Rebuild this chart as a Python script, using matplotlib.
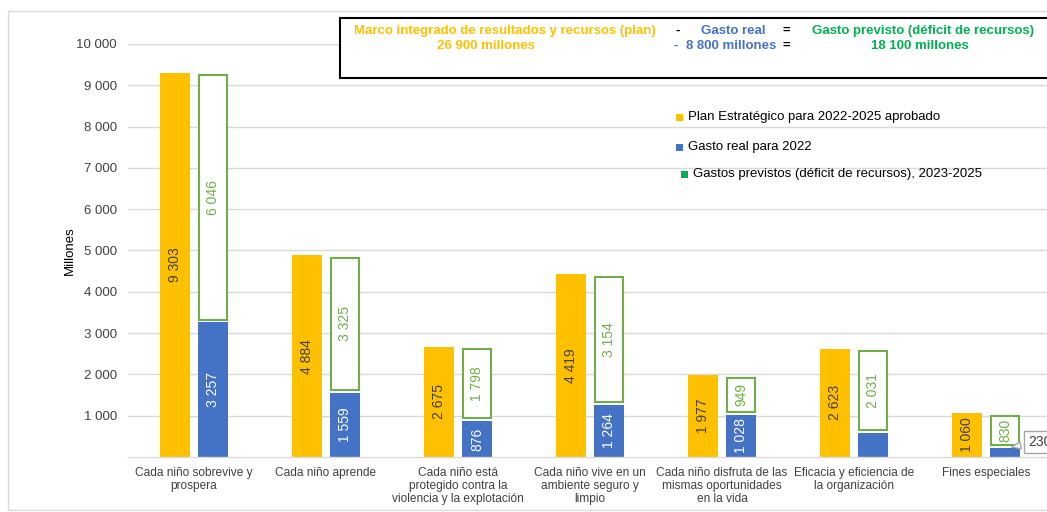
import matplotlib
matplotlib.use('Agg')
import matplotlib.pyplot as plt
from matplotlib.patches import Rectangle
import numpy as np

plt.rcParams['font.family'] = ['Liberation Sans', 'DejaVu Sans']

# Chart data (millones)
categories = ['Cada niño sobrevive y\nprospera',
              'Cada niño aprende',
              'Cada niño está\nprotegido contra la\nviolencia y la explotación',
              'Cada niño vive en un\nambiente seguro y\nlimpio',
              'Cada niño disfruta de las\nmismas oportunidades\nen la vida',
              'Eficacia y eficiencia de\nla organización',
              'Fines especiales']
plan = [9303, 4884, 2675, 4419, 1977, 2623, 1060]
real = [3257, 1559, 876, 1264, 1028, 592, 230]
deficit = [6046, 3325, 1798, 3154, 949, 2031, 830]
real_label = [True, True, True, True, True, False, False]  # last one is a callout
y_ticks = [1000, 2000, 3000, 4000, 5000, 6000, 7000, 8000, 9000, 10000]

ORANGE = '#FFC000'
BLUE = '#4472C4'
GREEN = '#70AD47'
HEAD_GREEN = '#00B050'
TEXT = '#404040'
GRID = '#D9D9D9'

W, H = 1047, 512


def fmt(v):
    return f'{v:,}'.replace(',', ' ')


def px(x, y):
    # pixel coords from top-left -> figure fraction
    return x / W, 1 - y / H


fig = plt.figure(figsize=(W / 100, H / 100), dpi=100)
fig.patch.set_facecolor('white')
ax = fig.add_axes([128 / W, 1 - 457 / H, (1052 - 128) / W, (457 - 44) / H])

x = np.arange(len(categories))
bw = 0.227
off = 0.144
inset = 60

ax.bar(x - off, plan, bw, color=ORANGE, zorder=2)
ax.bar(x + off, real, bw, color=BLUE, zorder=2)
ax.bar(x + off, np.array(deficit) - 2 * inset, 0.21, bottom=np.array(real) + inset,
       facecolor='white', edgecolor=GREEN, linewidth=1.5, zorder=2)

for i in range(len(categories)):
    ax.text(x[i] - off, plan[i] / 2, fmt(plan[i]), rotation=90, ha='center', va='center',
            color=TEXT, fontsize=10, zorder=3)
    if real_label[i]:
        ax.text(x[i] + off, real[i] / 2, fmt(real[i]), rotation=90, ha='center', va='center',
                color='white', fontsize=10, zorder=3)
    ax.text(x[i] + off, real[i] + deficit[i] / 2, fmt(deficit[i]), rotation=90,
            ha='center', va='center', color=GREEN, fontsize=10, zorder=3)

# callout for the small bar
ax.annotate(fmt(real[6]), xy=(x[6] + off + 0.03, real[6]), xytext=(1028, H - 442),
            textcoords='figure pixels', ha='left', va='center', fontsize=10, color=TEXT,
            bbox=dict(boxstyle='square,pad=0.3', fc='white', ec='#A6A6A6', lw=1),
            arrowprops=dict(arrowstyle='wedge,tail_width=0.5,shrink_factor=0.5',
                            fc='white', ec='#A6A6A6', lw=1),
            zorder=4, annotation_clip=False)

ax.set_xlim(-0.5, len(categories) - 0.5)
ax.set_ylim(0, 10000)
ax.set_yticks(y_ticks)
ax.set_yticklabels([fmt(t) for t in y_ticks])
ax.set_xticks(x)
ax.set_xticklabels(categories, fontsize=8.6, color=TEXT, linespacing=1.15)
ax.tick_params(axis='y', length=0, labelsize=9.5, labelcolor=TEXT, pad=8)
ax.tick_params(axis='x', length=0, pad=7)
ax.grid(axis='y', color=GRID, linewidth=1, zorder=0)
ax.set_axisbelow(True)
for s in ['top', 'right', 'left']:
    ax.spines[s].set_visible(False)
ax.spines['bottom'].set_color(GRID)
ax.spines['bottom'].set_linewidth(1)
ax.set_ylabel('Millones', fontsize=9.5, color='black', labelpad=0)

# outer chart border
x0, y0 = px(8, 510)
fig.patches.append(Rectangle((x0, y0), 1.1, px(0, 11)[1] - y0, transform=fig.transFigure,
                             fill=False, edgecolor=GRID, linewidth=1, zorder=1))

# header box
bx0, by0 = px(340, 78)
fig.patches.append(Rectangle((bx0, by0), 1.1, px(0, 18)[1] - by0, transform=fig.transFigure,
                             facecolor='white', edgecolor='black', linewidth=1.5, zorder=5))
head = dict(fontsize=9.5, fontweight='bold', va='center', zorder=6,
            family=['Liberation Sans Narrow', 'Liberation Sans', 'DejaVu Sans'])
fig.text(*px(505, 31), 'Marco integrado de resultados y recursos (plan)', color=ORANGE, ha='center', **head)
fig.text(*px(486, 46), '26 900 millones', color=ORANGE, ha='center', **head)
fig.text(*px(678, 31), '-', color='black', ha='center', **head)
fig.text(*px(733, 31), 'Gasto real', color=BLUE, ha='center', **head)
fig.text(*px(786, 31), '=', color='black', ha='center', **head)
fig.text(*px(923, 31), 'Gasto previsto (déficit de recursos)', color=HEAD_GREEN, ha='center', **head)
fig.text(*px(676, 46), '-', color=BLUE, ha='center', **head)
fig.text(*px(731, 46), '8 800 millones', color=BLUE, ha='center', **head)
fig.text(*px(786, 46), '=', color='black', ha='center', **head)
fig.text(*px(920, 46), '18 100 millones', color=HEAD_GREEN, ha='center', **head)

# legend
legend_items = [('Plan Estratégico para 2022-2025 aprobado', ORANGE, 676, 117),
                ('Gasto real para 2022', BLUE, 676, 147),
                ('Gastos previstos (déficit de recursos), 2023-2025', HEAD_GREEN, 681, 174)]
for label, color, lx, ly in legend_items:
    sx, sy = px(lx, ly + 3.5)
    fig.patches.append(Rectangle((sx, sy), 7 / W, 7 / H, transform=fig.transFigure,
                                 facecolor=color, edgecolor='none', zorder=5))
    fig.text(*px(lx + 12, ly), label, fontsize=9.5, color='black', va='center', zorder=6)

fig.savefig('out.png', dpi=100)
